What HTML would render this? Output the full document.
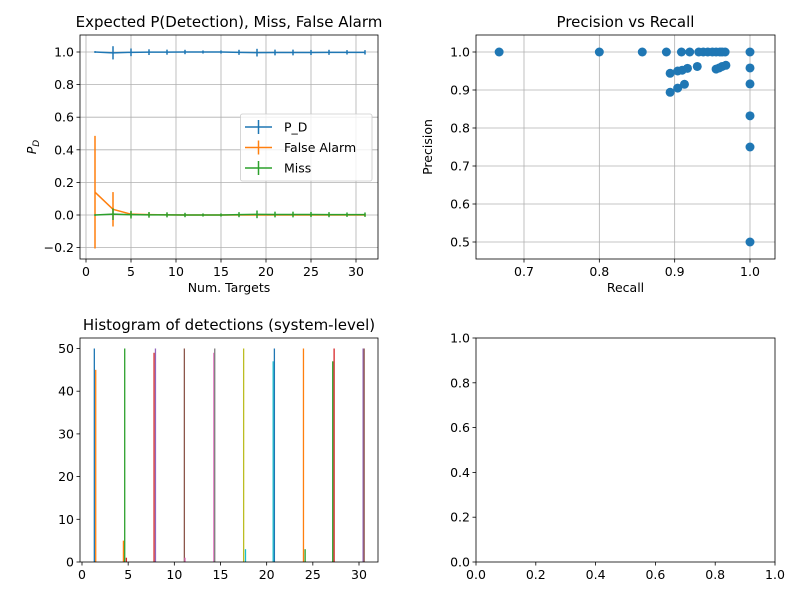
<!DOCTYPE html>
<html><head><meta charset="utf-8"><style>
html,body{margin:0;padding:0;background:#fff}
svg{display:block;font-family:"DejaVu Sans","Liberation Sans",sans-serif}
</style></head><body>
<svg id="fig" width="800" height="600" viewBox="0 0 800 600" xmlns="http://www.w3.org/2000/svg"></svg>
<script>
// ---- Panel 1 data ----
const nTargets = [1,3,5,7,9,11,13,15,17,19,21,23,25,27,29,31];
const pdMean = [1.0,0.995,0.998,0.999,0.999,1.0,1.0,1.0,0.998,0.996,0.997,0.997,0.997,0.998,0.998,0.998];
const pdErr  = [0.0,0.035,0.018,0.012,0.01,0.008,0.004,0.004,0.01,0.018,0.012,0.012,0.01,0.01,0.008,0.008];
const faMean = [0.14,0.035,0.005,0.002,0.001,0.0,0.0,0.0,0.0,0.0,0.0,0.0,0.0,0.0,0.0,0.0];
const faErr  = [0.34,0.1,0.01,0.005,0.003,0.0,0.0,0.0,0.0,0.0,0.0,0.0,0.0,0.0,0.0,0.0];
const missMean=[0.0,0.005,0.002,0.001,0.001,0.0,0.0,0.0,0.002,0.004,0.003,0.003,0.003,0.002,0.002,0.002];
const missErr =[0.0,0.03,0.018,0.012,0.01,0.008,0.004,0.004,0.01,0.018,0.012,0.012,0.01,0.01,0.008,0.008];
const p1XTicks=[0,5,10,15,20,25,30];
const p1YTicks=[-0.2,0.0,0.2,0.4,0.6,0.8,1.0];
// ---- Panel 2 data ----
const recall=[0.667,0.8,0.857,0.889,0.909,0.92,0.932,0.938,0.944,0.95,0.955,0.96,0.963,0.967,
 0.894,0.904,0.91,0.917,0.93,0.955,0.959,0.963,0.968,0.894,0.904,0.913,1,1,1,1,1,1];
const precision=[1,1,1,1,1,1,1,1,1,1,1,1,1,1,
 0.944,0.95,0.952,0.957,0.962,0.955,0.958,0.962,0.965,0.894,0.905,0.915,1,0.958,0.916,0.832,0.75,0.5];
const p2XTicks=[0.7,0.8,0.9,1.0];
const p2YTicks=[0.5,0.6,0.7,0.8,0.9,1.0];
// ---- Panel 3 data ----
const histX=[1.33,1.48,4.48,4.62,4.8,7.8,7.95,11.08,11.16,14.27,14.37,17.5,17.7,20.7,20.83,23.98,24.16,27.15,27.3,30.44,30.55];
const histH=[50,45,5,50,1,49,50,50,1,49,50,50,3,47,50,50,3,47,50,50,50];
const histC=['#1f77b4','#ff7f0e','#ff7f0e','#2ca02c','#d62728','#d62728','#9467bd','#8c564b','#e377c2','#e377c2','#7f7f7f','#bcbd22','#17becf','#17becf','#1f77b4','#ff7f0e','#2ca02c','#2ca02c','#d62728','#9467bd','#8c564b'];
const p3XTicks=[0,5,10,15,20,25,30];
const p3YTicks=[0,10,20,30,40,50];
const p4Ticks=[0.0,0.2,0.4,0.6,0.8,1.0];

const NS='http://www.w3.org/2000/svg';
const svg=document.getElementById('fig');
function mk(tag,attrs,parent){const e=document.createElementNS(NS,tag);for(const k in attrs)e.setAttribute(k,attrs[k]);(parent||svg).appendChild(e);return e;}
function lin(d0,d1,r0,r1){return v=>r0+(v-d0)/(d1-d0)*(r1-r0);}
function axes(name,L,R,T,B,sx,sy,xt,yt,xfmt,yfmt,title,xl,yl,grid){
  const g=mk('g',{});
  
  
  xt.forEach(v=>{const x=sx(v);
    if(grid){const l=mk('line',{x1:x,x2:x,y1:T,y2:B,stroke:'#b0b0b0','stroke-width':0.8},g);
    }
    mk('line',{x1:x,x2:x,y1:B,y2:B+3.5,stroke:'#000','stroke-width':0.8},g);
    const t=mk('text',{x:x,y:B+17,'font-size':12.5,'text-anchor':'middle',fill:'#000'},g);
    
    t.textContent=xfmt(v);});
  yt.forEach(v=>{const y=sy(v);
    if(grid){const l=mk('line',{x1:L,x2:R,y1:y,y2:y,stroke:'#b0b0b0','stroke-width':0.8},g);
    }
    mk('line',{x1:L-3.5,x2:L,y1:y,y2:y,stroke:'#000','stroke-width':0.8},g);
    const t=mk('text',{x:L-6,y:y+4.5,'font-size':12.5,'text-anchor':'end',fill:'#000'},g);
    
    t.textContent=yfmt(v);});
  if(title){const t=mk('text',{x:(L+R)/2,y:T-8,'font-size':15,'text-anchor':'middle'},g);
    t.textContent=title;}
  if(xl){const t=mk('text',{x:(L+R)/2,y:B+33,'font-size':12.5,'text-anchor':'middle'},g);
    t.textContent=xl;}
  if(yl){const t=mk('text',{x:0,y:0,'font-size':12.5,'text-anchor':'middle',transform:`translate(${L-44},${(T+B)/2}) rotate(-90)`},g);
    
    if(yl==='PD'){t.innerHTML='<tspan font-style="italic">P</tspan><tspan font-style="italic" font-size="9" dy="3">D</tspan>';}else t.textContent=yl;}
  return g;
}
function frame(L,R,T,B){const r=mk('rect',{x:L,y:T,width:R-L,height:B-T,fill:'none',stroke:'#000','stroke-width':0.8});
  }
const f1=v=>v.toFixed(1).replace('-','\u2212');

// Panel 1
{const L=80,R=378,T=35,B=259;
 const sx=lin(0,30,86,356), sy=lin(0,1,215,52);
 axes('detection-chart',L,R,T,B,sx,sy,p1XTicks,p1YTicks,v=>String(v),f1,'Expected P(Detection), Miss, False Alarm','Num. Targets','PD',true);
 const series=[[pdMean,pdErr,'#1f77b4','pd-series'],[faMean,faErr,'#ff7f0e','false-alarm-series'],[missMean,missErr,'#2ca02c','miss-series']];
 series.forEach(([m,e,c,n])=>{
   const g=mk('g',{});
   mk('polyline',{points:nTargets.map((x,i)=>sx(x)+','+sy(m[i])).join(' '),fill:'none',stroke:c,'stroke-width':1.5},g);
   nTargets.forEach((x,i)=>{const l=mk('line',{x1:sx(x),x2:sx(x),y1:sy(m[i]-e[i])+0.9,y2:sy(m[i]+e[i])-0.9,stroke:c,'stroke-width':1.5},g);
     });
 });
 frame(L,R,T,B);
 const lg=mk('g',{});
 mk('rect',{x:240.5,y:114,width:131.5,height:67,rx:2,fill:'#fff','fill-opacity':0.8,stroke:'#ccc','stroke-width':0.8},lg);
 [['P_D','#1f77b4'],['False Alarm','#ff7f0e'],['Miss','#2ca02c']].forEach(([t,c],i)=>{
   const y=127+i*20.5;
   const e=mk('g',{},lg);
   mk('line',{x1:245,x2:272,y1:y,y2:y,stroke:c,'stroke-width':1.5},e);
   mk('line',{x1:258.5,x2:258.5,y1:y-7,y2:y+7,stroke:c,'stroke-width':1.5},e);
   const tx=mk('text',{x:284,y:y+4.5,'font-size':12.5},e);tx.textContent=t;});
}
// Panel 2
{const L=476,R=775,T=35,B=259;
 const sx=lin(0.7,1.0,524,750), sy=lin(0.5,1.0,242,52);
 axes('precision-recall-chart',L,R,T,B,sx,sy,p2XTicks,p2YTicks,f1,f1,'Precision vs Recall','Recall','Precision',true);
 recall.forEach((r,i)=>{const c=mk('circle',{cx:sx(r),cy:sy(precision[i]),r:4.5,fill:'#1f77b4'});
   });
 frame(L,R,T,B);
}
// Panel 3
{const L=80,R=378,T=338,B=562;
 const sx=lin(0,30,82,359), sy=lin(0,50,562,348.5);
 axes('histogram-chart',L,R,T,B,sx,sy,p3XTicks,p3YTicks,v=>String(v),v=>String(v),'Histogram of detections (system-level)','','',false);
 histX.forEach((x,i)=>{const r=mk('rect',{x:sx(x)-0.6,y:sy(histH[i]),width:1.3,height:sy(0)-sy(histH[i]),fill:histC[i]});
   });
 frame(L,R,T,B);
}
// Panel 4 (empty)
{const L=476,R=775,T=338,B=562;
 const sx=lin(0,1,L,R), sy=lin(0,1,B,T);
 const g=mk('g',{});
 p4Ticks.forEach(v=>{
   mk('line',{x1:sx(v),x2:sx(v),y1:B,y2:B+3.5,stroke:'#000','stroke-width':0.8},g);
   const t=mk('text',{x:sx(v),y:B+17,'font-size':12.5,'text-anchor':'middle'},g);t.textContent=f1(v);
   
   mk('line',{x1:L-3.5,x2:L,y1:sy(v),y2:sy(v),stroke:'#000','stroke-width':0.8},g);
   const u=mk('text',{x:L-6,y:sy(v)+4.5,'font-size':12.5,'text-anchor':'end'},g);u.textContent=f1(v);
   
 });
 frame(L,R,T,B);
}
</script>
</body></html>
